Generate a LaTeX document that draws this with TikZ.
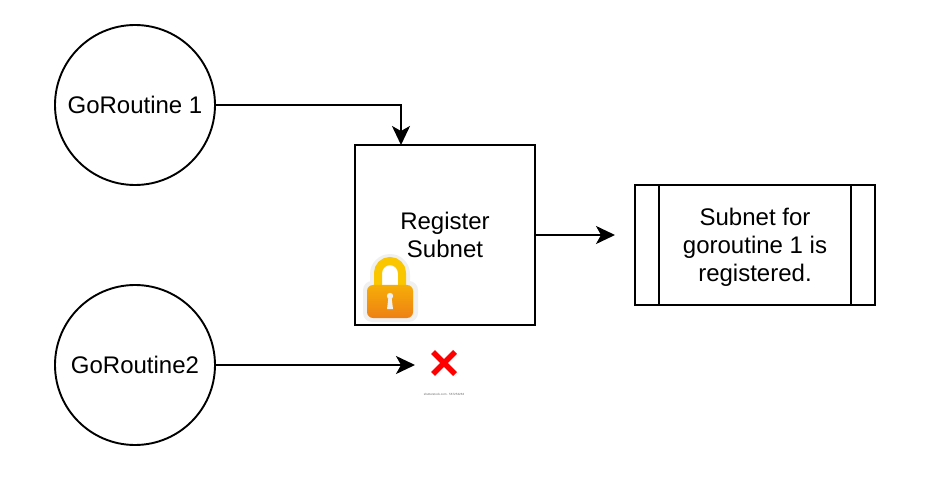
\documentclass[tikz,border=0pt]{standalone}
\usepackage{fontspec}
\setmainfont{Liberation Sans}
\usetikzlibrary{arrows.meta}
\definecolor{lockA}{RGB}{250,198,0}
\definecolor{lockB}{RGB}{238,128,20}
\definecolor{halo}{RGB}{240,240,240}
\tikzset{
  x=1pt,y=-1pt,
  ln/.style={draw=black,line width=1.9pt},
  lbl/.style={font=\fontsize{24}{28}\selectfont,align=center,text=black},
  conn/.style={ln,-{Stealth[length=19pt,width=18pt,inset=5pt]}},
  routine/.style={ln,circle,minimum size=160pt,inner sep=0pt,lbl},
}
\begin{document}
\begin{tikzpicture}
\useasboundingbox (0,0) rectangle (942,494);
\node[routine] (g1) at (135,105) {GoRoutine 1};
\node[routine] (g2) at (135,365) {GoRoutine2};
\node[ln,minimum width=180pt,minimum height=180pt,inner sep=0pt,lbl] (reg) at (445,235) {Register\\Subnet};
\node[ln,minimum width=240pt,minimum height=120pt,inner sep=0pt] (res) at (755,245) {};
\node[lbl,inner sep=0pt] (restext) at (755,247) {Subnet for\\goroutine 1 is\\registered.};
\draw[ln] (659,185) -- (659,305);
\draw[ln] (851,185) -- (851,305);
\coordinate (regtop) at (401,145);
\coordinate (resfree) at (615,235);
\coordinate (xfree) at (415,365);
\draw[conn] (g1.east) -- (401,105) -- (regtop);
\draw[conn] (reg.east) -- (resfree);
\draw[conn] (g2.east) -- (xfree);
% padlock
\fill[halo,rounded corners=9pt] (363,281) rectangle (418,322);
\fill[halo] (370,285) -- (370,274) arc[start angle=180,end angle=0,radius=20pt] -- (410,285) -- cycle;
\fill[white] (382,285) -- (382,274) arc[start angle=180,end angle=0,radius=8pt] -- (398,285) -- cycle;
\draw[line width=8pt,lockA] (378,288) -- (378,273) arc[start angle=180,end angle=0,radius=12pt] -- (402,288);
\shade[top color=lockA!65!lockB,bottom color=lockB,rounded corners=6pt] (367,285) rectangle (413,318);
\fill[halo] (390,296) circle[radius=3.2pt];
\fill[halo] (388.5,297) -- (391.5,297) -- (393,309) -- (387,309) -- cycle;
% cross
\draw[red,line width=5.5pt] (433,352) -- (455,374);
\draw[red,line width=5.5pt] (455,352) -- (433,374);
\node[font=\fontsize{3}{3}\selectfont,text=black!60,inner sep=0pt] (wm) at (444,394) {shutterstock.com · 567253263};
\end{tikzpicture}
\end{document}
